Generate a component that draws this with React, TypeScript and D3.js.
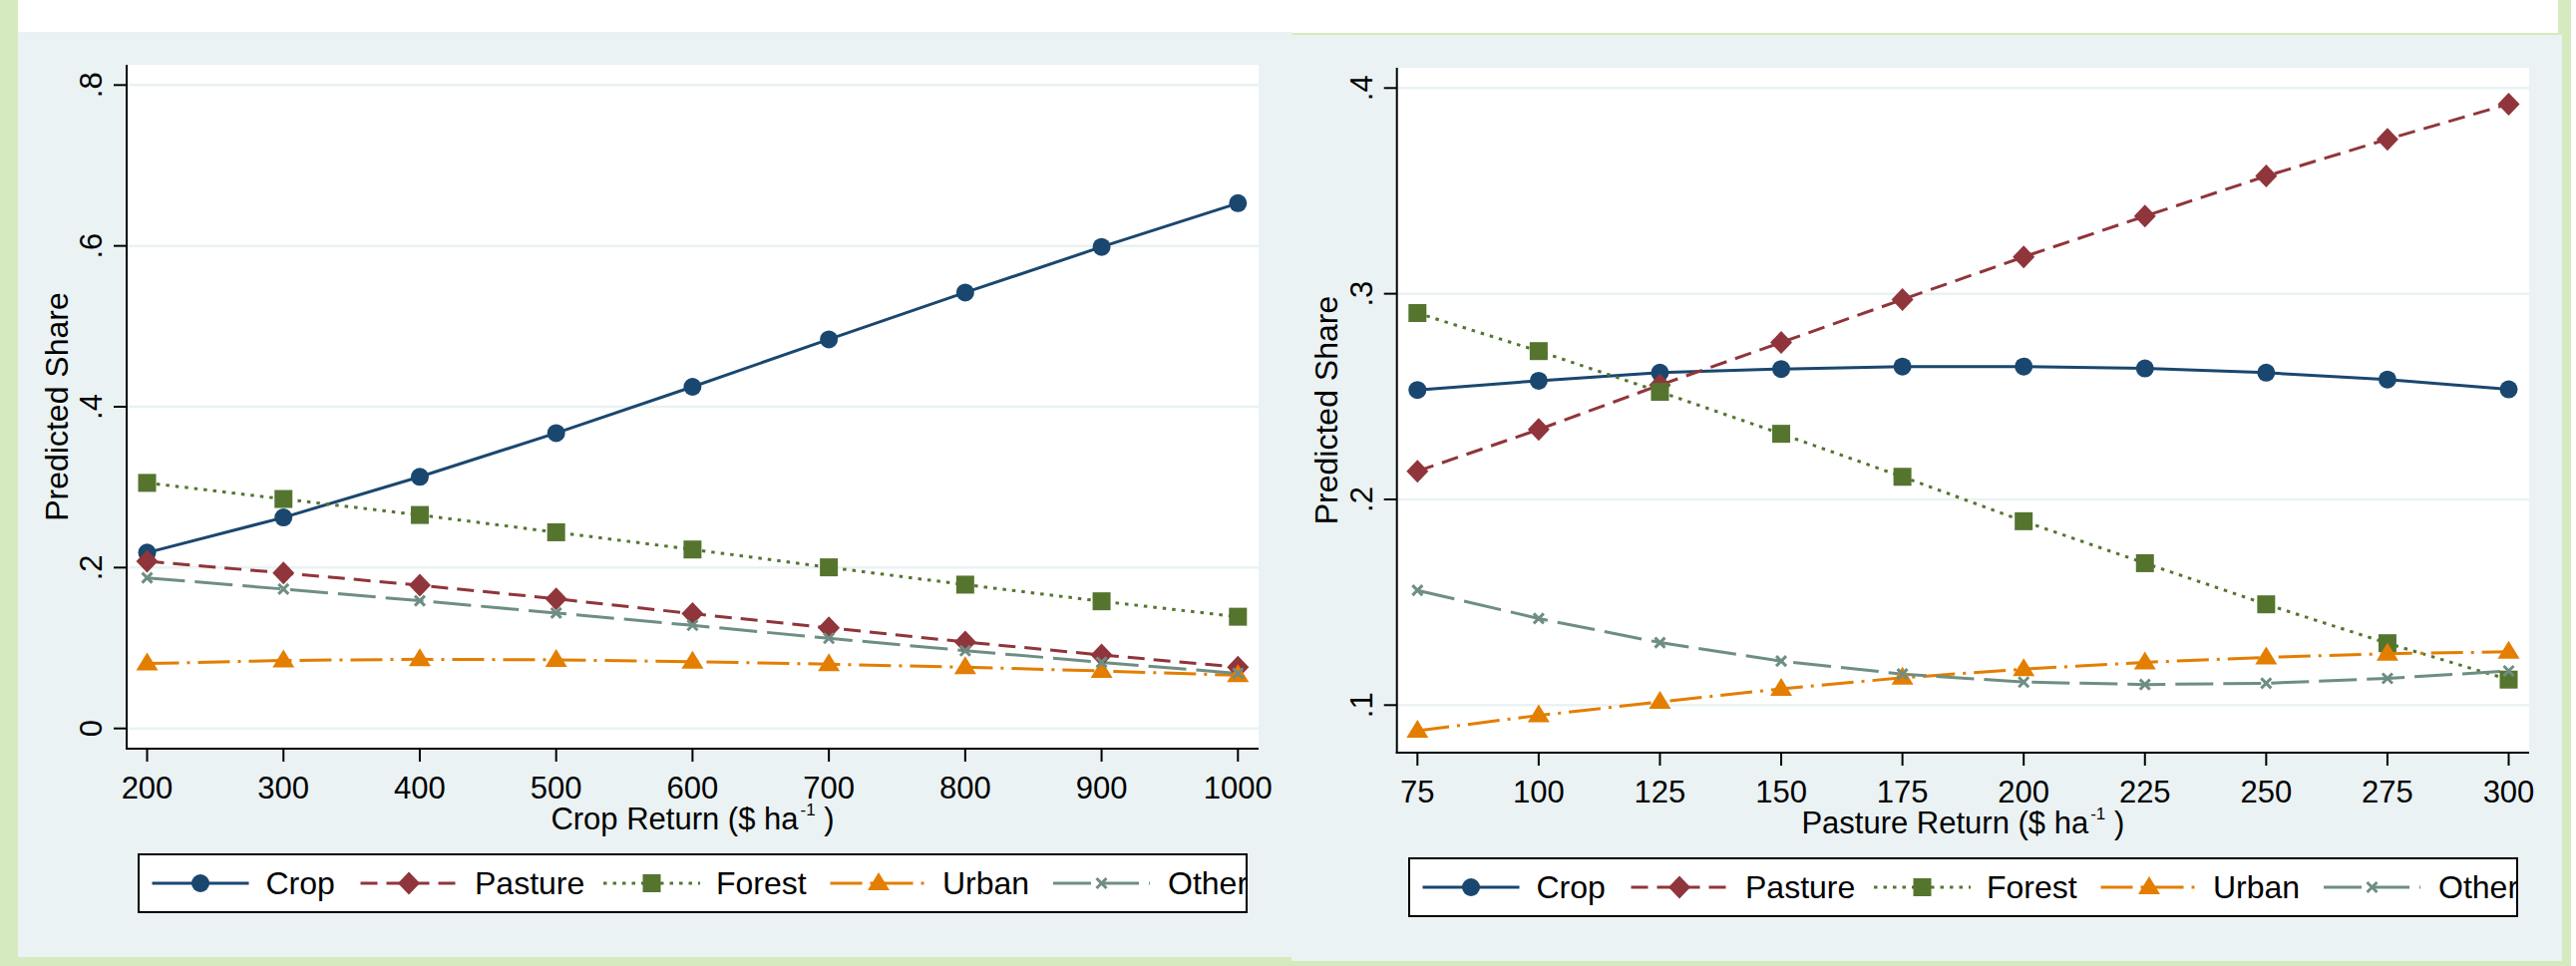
import React from 'react';
import * as d3 from 'd3';

// series names, in legend order
const seriesNames = ['Crop', 'Pasture', 'Forest', 'Urban', 'Other'];

// left panel: shares against crop return
const cropReturn = [200, 300, 400, 500, 600, 700, 800, 900, 1000];
const cropPanelCrop = [0.2186, 0.2623, 0.3129, 0.3673, 0.4248, 0.4838, 0.542, 0.5987, 0.6531];
const cropPanelPasture = [0.2079, 0.1933, 0.178, 0.1612, 0.1427, 0.1251, 0.1075, 0.0914, 0.0761];
const cropPanelForest = [0.3053, 0.2853, 0.2654, 0.2439, 0.2225, 0.2003, 0.1788, 0.1581, 0.1389];
const cropPanelUrban = [0.0807, 0.0845, 0.086, 0.0853, 0.083, 0.0799, 0.0761, 0.0715, 0.0661];
const cropPanelOther = [0.1872, 0.1733, 0.1588, 0.1435, 0.1282, 0.1121, 0.0967, 0.0822, 0.0684];
const cropYTicks = [0, 0.2, 0.4, 0.6, 0.8];
const cropYLabels = ['0', '.2', '.4', '.6', '.8'];

// right panel: shares against pasture return
const pastureReturn = [75, 100, 125, 150, 175, 200, 225, 250, 275, 300];
const pasturePanelCrop = [0.2532, 0.2577, 0.2616, 0.2634, 0.2646, 0.2646, 0.2637, 0.2616, 0.2583, 0.2535];
const pasturePanelPasture = [0.2137, 0.234, 0.2556, 0.2763, 0.2972, 0.3179, 0.3377, 0.3572, 0.3751, 0.3922];
const pasturePanelForest = [0.2906, 0.2721, 0.2523, 0.2319, 0.211, 0.1894, 0.169, 0.149, 0.1301, 0.1124];
const pasturePanelUrban = [0.0875, 0.095, 0.1016, 0.1079, 0.1133, 0.1175, 0.1208, 0.1232, 0.125, 0.1259];
const pasturePanelOther = [0.1558, 0.1421, 0.1304, 0.1214, 0.1151, 0.1112, 0.11, 0.1106, 0.113, 0.1166];
const pastureYTicks = [0.1, 0.2, 0.3, 0.4];
const pastureYLabels = ['.1', '.2', '.3', '.4'];

// stata s2color look
const COLORS = ['#1a476f', '#90353b', '#55752f', '#e37e00', '#6e8e84'];
const DASHES = [undefined, '17 9', '3.5 6', '32 8 3 8', '38 10'];
const MARKERS = ['circle', 'diamond', 'square', 'triangle', 'x'];
const FONT = '"Liberation Sans", Arial, Helvetica, sans-serif';
const BLUISH = '#eaf2f3';

// legend key offsets inside the box
const KEY_X = [13.5, 222.5, 466, 693.5, 917];
const LABEL_X = [127.5, 337, 579, 806, 1032];
const KEY_W = 97;

function Marker({ kind, x, y, color }: { kind: string; x: number; y: number; color: string }) {
  if (kind === 'circle') return <circle cx={x} cy={y} r={9} fill={color} />;
  if (kind === 'diamond')
    return <path d={`M${x},${y - 11.5}L${x + 11},${y}L${x},${y + 11.5}L${x - 11},${y}Z`} fill={color} />;
  if (kind === 'square') return <rect x={x - 9} y={y - 9} width={18} height={18} fill={color} />;
  if (kind === 'triangle')
    return <path d={`M${x},${y - 11}L${x + 11},${y + 7}L${x - 11},${y + 7}Z`} fill={color} />;
  return (
    <path
      d={`M${x - 5},${y - 5}L${x + 5},${y + 5}M${x - 5},${y + 5}L${x + 5},${y - 5}`}
      stroke={color}
      strokeWidth={3}
      fill="none"
    />
  );
}

type PanelProps = {
  id: string;
  bg: number[];
  plot: number[];
  xs: number[];
  series: number[][];
  xDomain: number[];
  xRange: number[];
  yDomain: number[];
  yRange: number[];
  yTicks: number[];
  yLabels: string[];
  xTitle: string;
  yTitleX: number;
  legend: number[];
};

function Panel(p: PanelProps) {
  const x = d3.scaleLinear().domain(p.xDomain).range(p.xRange);
  const y = d3.scaleLinear().domain(p.yDomain).range(p.yRange);
  const [px0, py0, px1, py1] = p.plot;
  const [lx0, ly0, lx1, ly1] = p.legend;
  const lyc = (ly0 + ly1) / 2;
  const line = d3
    .line<number>()
    .x((_, i) => x(p.xs[i]))
    .y((d) => y(d));

  return (
    <g fontFamily={FONT}>
      <rect x={p.bg[0]} y={p.bg[1]} width={p.bg[2] - p.bg[0]} height={p.bg[3] - p.bg[1]} fill={BLUISH} />
      <rect x={px0} y={py0} width={px1 - px0} height={py1 - py0} fill="#fff" />

      {/* grid */}
      {p.yTicks.map((t) => (
        <line key={'g' + t} x1={px0} x2={px1} y1={y(t)} y2={y(t)} stroke={BLUISH} strokeWidth={2.5} />
      ))}

      {/* series */}
      {p.series.map((vals, s) => (
        <path
          key={'l' + s}
          d={line(vals) || ''}
          fill="none"
          stroke={COLORS[s]}
          strokeWidth={3}
          strokeDasharray={DASHES[s]}
        />
      ))}
      {p.series.map((vals, s) =>
        vals.map((v, i) => <Marker key={`m${s}-${i}`} kind={MARKERS[s]} x={x(p.xs[i])} y={y(v)} color={COLORS[s]} />)
      )}

      {/* axes */}
      <line x1={px0} x2={px0} y1={py0} y2={py1 + 1} stroke="#000" strokeWidth={2} />
      <line x1={px0 - 1} x2={px1} y1={py1} y2={py1} stroke="#000" strokeWidth={2} />
      {p.yTicks.map((t, i) => (
        <g key={'yt' + t}>
          <line x1={px0 - 13} x2={px0} y1={y(t)} y2={y(t)} stroke="#000" strokeWidth={2} />
          <text
            transform={`translate(${px0 - 25},${y(t)}) rotate(-90)`}
            textAnchor="middle"
            fontSize={31}
            fill="#000"
          >
            {p.yLabels[i]}
          </text>
        </g>
      ))}
      {p.xs.map((t) => (
        <g key={'xt' + t}>
          <line x1={x(t)} x2={x(t)} y1={py1} y2={py1 + 13} stroke="#000" strokeWidth={2} />
          <text x={x(t)} y={py1 + 50} textAnchor="middle" fontSize={31} fill="#000">
            {t}
          </text>
        </g>
      ))}
      <text x={(px0 + px1) / 2} y={py1 + 81} textAnchor="middle" fontSize={31} fill="#000">
        {p.xTitle}
        <tspan dx={2} dy={-14} fontSize={17}>
          -1
        </tspan>
        <tspan dy={14}>{' )'}</tspan>
      </text>
      <text
        transform={`translate(${p.yTitleX},${(py0 + py1) / 2}) rotate(-90)`}
        textAnchor="middle"
        fontSize={32}
        fill="#000"
      >
        Predicted Share
      </text>

      {/* legend */}
      <clipPath id={p.id + '-clip'}>
        <rect x={lx0} y={ly0} width={lx1 - lx0} height={ly1 - ly0} />
      </clipPath>
      <rect x={lx0} y={ly0} width={lx1 - lx0} height={ly1 - ly0} fill="#fff" />
      <g clipPath={`url(#${p.id}-clip)`}>
        {seriesNames.map((name, s) => (
          <g key={name}>
            <line
              x1={lx0 + KEY_X[s]}
              x2={lx0 + KEY_X[s] + KEY_W}
              y1={lyc}
              y2={lyc}
              stroke={COLORS[s]}
              strokeWidth={3}
              strokeDasharray={DASHES[s]}
            />
            <Marker kind={MARKERS[s]} x={lx0 + KEY_X[s] + KEY_W / 2} y={lyc} color={COLORS[s]} />
            <text x={lx0 + LABEL_X[s]} y={lyc + 11} fontSize={32} fill="#000">
              {name}
            </text>
          </g>
        ))}
      </g>
      <rect x={lx0} y={ly0} width={lx1 - lx0} height={ly1 - ly0} fill="none" stroke="#000" strokeWidth={2} />
    </g>
  );
}

export default function App() {
  return (
    <svg
      width={2583}
      height={969}
      style={{ position: 'absolute', left: 0, top: 0, display: 'block' }}
    >
      <rect x={0} y={0} width={2583} height={969} fill="#d5eabf" />
      <rect x={18} y={0} width={2547} height={33} fill="#fff" />
      <rect x={2578} y={0} width={5} height={969} fill="#fff" />
      <Panel
        id="crop"
        bg={[18, 32, 1296, 960]}
        plot={[127, 65, 1262, 751]}
        xs={cropReturn}
        series={[cropPanelCrop, cropPanelPasture, cropPanelForest, cropPanelUrban, cropPanelOther]}
        xDomain={[200, 1000]}
        xRange={[147.5, 1241.3]}
        yDomain={[0, 0.8]}
        yRange={[730.7, 85.3]}
        yTicks={cropYTicks}
        yLabels={cropYLabels}
        xTitle="Crop Return ($ ha"
        yTitleX={68}
        legend={[139, 857, 1250, 915]}
      />
      <Panel
        id="pasture"
        bg={[1295, 35, 2569, 964]}
        plot={[1400.7, 68, 2536, 755]}
        xs={pastureReturn}
        series={[pasturePanelCrop, pasturePanelPasture, pasturePanelForest, pasturePanelUrban, pasturePanelOther]}
        xDomain={[75, 300]}
        xRange={[1421.3, 2515.5]}
        yDomain={[0.1, 0.4]}
        yRange={[707.3, 88.3]}
        yTicks={pastureYTicks}
        yLabels={pastureYLabels}
        xTitle="Pasture Return ($ ha"
        yTitleX={1341}
        legend={[1413, 861, 2524, 919]}
      />
    </svg>
  );
}
